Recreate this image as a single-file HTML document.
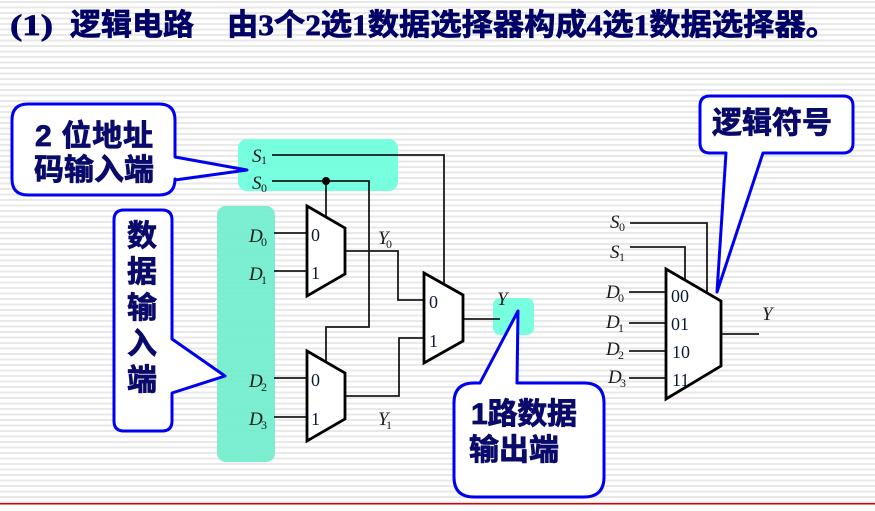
<!DOCTYPE html>
<html><head><meta charset="utf-8">
<style>
html,body{margin:0;padding:0;width:875px;height:511px;overflow:hidden;background:#fff}
svg{display:block;position:absolute;left:0;top:0}
.c{font-family:"Liberation Sans","Noto Sans CJK SC",sans-serif;font-weight:700;font-size:30px;fill:#0a0a6a;stroke:#0a0a6a;stroke-width:.8}
.t{font-family:"Liberation Serif","Noto Sans CJK SC",sans-serif;font-weight:700;font-size:30px;fill:#000066;stroke:#000066;stroke-width:.7}
.i{font-family:"Liberation Serif",serif;font-style:italic;font-size:19px;fill:#1a1a1a}
.s{font-family:"Liberation Serif",serif;font-size:12px;fill:#1a1a1a}
.n{font-family:"Liberation Serif",serif;font-size:18px;fill:#0c1a3a}
.w{fill:none;stroke:#1a1a1a;stroke-width:1.8}
.m{fill:#fff;stroke:#000;stroke-width:2.8}
.b{fill:#fff;stroke:#0000f0;stroke-width:3;stroke-linejoin:round}
</style></head><body>
<svg width="875" height="511" viewBox="0 0 875 511" xmlns="http://www.w3.org/2000/svg">
<defs>
<pattern id="st" width="875" height="5.5" patternUnits="userSpaceOnUse">
<rect width="875" height="5.5" fill="#fff"/>
<rect y="1" width="875" height="2" fill="#e8e8e8"/>
</pattern>
</defs>
<rect width="875" height="511" fill="url(#st)"/>
<rect x="0" y="503" width="875" height="1.6" fill="#d80000"/>
<rect x="0" y="504.6" width="875" height="6.4" fill="#fff"/>

<text class="t" x="10" y="35" textLength="43" lengthAdjust="spacingAndGlyphs">(1)</text>
<text class="t" x="70" y="35" textLength="124" lengthAdjust="spacingAndGlyphs">逻辑电路</text>
<text class="t" x="227" y="35" textLength="610" lengthAdjust="spacingAndGlyphs">由3个2选1数据选择器构成4选1数据选择器。</text>

<rect x="238" y="139" width="160" height="52" rx="9" fill="#6cffdc" fill-opacity=".92"/>
<rect x="217" y="206" width="58" height="256" rx="9" fill="#70eecb" fill-opacity=".92"/>
<rect x="493" y="298" width="41" height="37" rx="7" fill="#6cffdc" fill-opacity=".92"/>

<path class="w" d="M272 155H444V283"/>
<path class="w" d="M272 181H369V327H326V362"/>
<path class="w" d="M326 181V217"/>
<circle cx="326" cy="181" r="4" fill="#000"/>
<path class="w" d="M274 233H307M274 271H307M274 378H307M274 417H307"/>
<path class="w" d="M345 251H398V300H424"/>
<path class="w" d="M345 396H399V338H424"/>
<path class="w" d="M463 319H500"/>

<polygon class="m" points="307,206 345,228 345,274 307,296"/>
<polygon class="m" points="307,351 345,373 345,419 307,441"/>
<polygon class="m" points="424,273 463,295 463,341 424,363"/>

<text class="n" x="311" y="241">0</text><text class="n" x="311" y="279">1</text>
<text class="n" x="311" y="386">0</text><text class="n" x="311" y="425">1</text>
<text class="n" x="429" y="308">0</text><text class="n" x="429" y="347">1</text>

<text class="i" x="252" y="162">S</text><text class="s" x="261" y="164">1</text>
<text class="i" x="252" y="189">S</text><text class="s" x="261" y="192">0</text>
<text class="i" x="249" y="242">D</text><text class="s" x="261" y="246">0</text>
<text class="i" x="249" y="280">D</text><text class="s" x="261" y="284">1</text>
<text class="i" x="249" y="387">D</text><text class="s" x="261" y="391">2</text>
<text class="i" x="249" y="425">D</text><text class="s" x="261" y="429">3</text>
<text class="i" x="378" y="244">Y</text><text class="s" x="386" y="248">0</text>
<text class="i" x="378" y="425">Y</text><text class="s" x="386" y="429">1</text>
<text class="i" x="497" y="305">Y</text>

<path class="w" d="M630 223H707V292"/>
<path class="w" d="M630 247H685V280"/>
<path class="w" d="M629 292H666M629 323H666M629 351H666M629 378H666"/>
<path class="w" d="M721 334H759"/>
<polygon class="m" points="666,269 721,301 721,366 666,399"/>
<text class="n" x="671" y="302">00</text><text class="n" x="671" y="330">01</text>
<text class="n" x="672" y="358">10</text><text class="n" x="672" y="386">11</text>
<text class="i" x="610" y="228">S</text><text class="s" x="619" y="231">0</text>
<text class="i" x="610" y="258">S</text><text class="s" x="619" y="261">1</text>
<text class="i" x="606" y="298">D</text><text class="s" x="618" y="302">0</text>
<text class="i" x="606" y="328">D</text><text class="s" x="618" y="332">1</text>
<text class="i" x="606" y="355">D</text><text class="s" x="618" y="359">2</text>
<text class="i" x="608" y="383">D</text><text class="s" x="620" y="387">3</text>
<text class="i" x="762" y="320">Y</text>

<path class="b" d="M28 104H159Q175 104 175 120V157L247 170L175 180V179Q175 195 159 195H28Q12 195 12 179V120Q12 104 28 104Z"/>
<path class="b" d="M124 210H162Q172 210 172 220V339L225 376L172 393V421Q172 431 162 431H124Q114 431 114 421V220Q114 210 124 210Z"/>
<path class="b" d="M474 383H480L518 311L517 383H584Q604 383 604 403V477Q604 497 584 497H474Q454 497 454 477V403Q454 383 474 383Z"/>
<path class="b" d="M710 96H843Q853 96 853 106V143Q853 153 843 153H763L717 292L726 153H710Q700 153 700 143V106Q700 96 710 96Z"/>

<text class="c" x="35" y="146" textLength="118">2 位地址</text>
<text class="c" x="34" y="180">码输入端</text>
<text class="c" x="127" y="246">数</text>
<text class="c" x="127" y="282">据</text>
<text class="c" x="127" y="318">输</text>
<text class="c" x="127" y="354">入</text>
<text class="c" x="127" y="390">端</text>
<text class="c" x="471" y="424" textLength="106">1路数据</text>
<text class="c" x="469" y="460">输出端</text>
<text class="c" x="712" y="133">逻辑符号</text>
</svg>
</body></html>
